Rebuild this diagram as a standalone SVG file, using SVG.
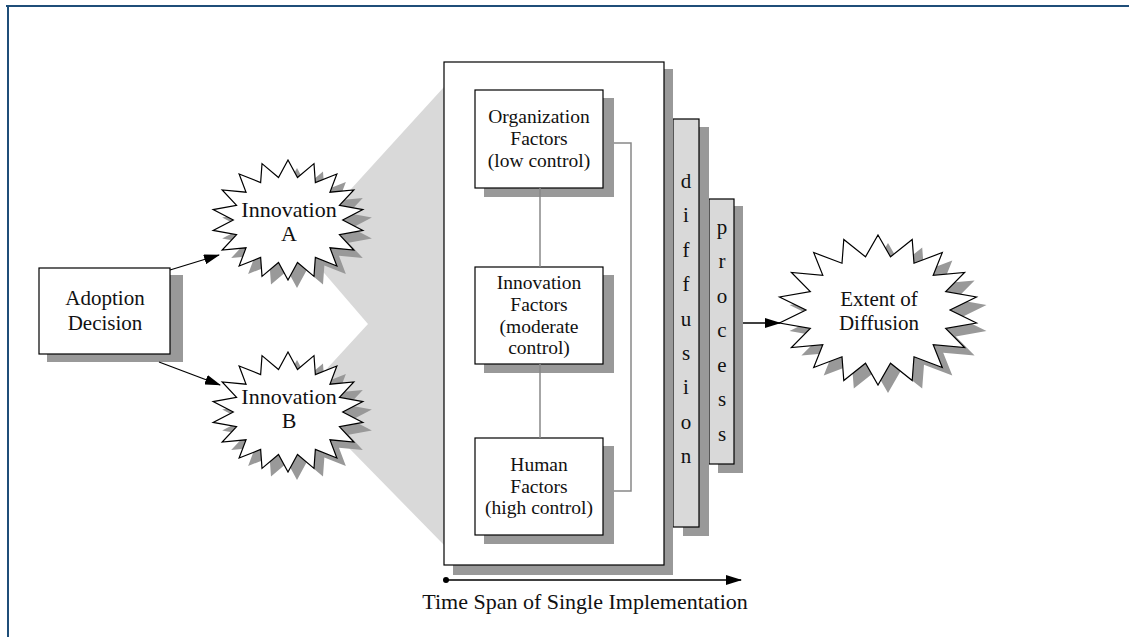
<svg xmlns="http://www.w3.org/2000/svg" xmlns:xlink="http://www.w3.org/1999/xlink" width="1129" height="637" viewBox="0 0 1129 637">
<style>
.t{font-family:"Liberation Serif","Times New Roman",serif;fill:#111;text-anchor:middle}
.s21{font-size:21px}
.s22{font-size:22px}
.s19{font-size:19.5px}
.box{fill:#fff;stroke:#000;stroke-width:1.2}
.sh{fill:#999}
.panel{fill:#d9d9d9;stroke:#000;stroke-width:1.2}
.gl{fill:none;stroke:#888;stroke-width:1.5}
.ar{fill:none;stroke:#000;stroke-width:1.3}
</style>
<defs>
<path id="star" vector-effect="non-scaling-stroke" d="M0,-100 L12.5,-70.9 L34.2,-94 L36,-62.4 L64.3,-76.6 L55.2,-46.3 L86.6,-50 L67.7,-24.6 L98.5,-17.4 L72,0 L98.5,17.4 L67.7,24.6 L86.6,50 L55.2,46.3 L64.3,76.6 L36,62.4 L34.2,94 L12.5,70.9 L0,100 L-12.5,70.9 L-34.2,94 L-36,62.4 L-64.3,76.6 L-55.2,46.3 L-86.6,50 L-67.7,24.6 L-98.5,17.4 L-72,0 L-98.5,-17.4 L-67.7,-24.6 L-86.6,-50 L-55.2,-46.3 L-64.3,-76.6 L-36,-62.4 L-34.2,-94 L-12.5,-70.9 Z"/>
<marker id="arr" markerWidth="16" markerHeight="10" refX="15" refY="5" orient="auto" markerUnits="userSpaceOnUse">
<path d="M0,0 L16,5 L0,10 Z" fill="#000"/>
</marker>
</defs>

<!-- frame -->
<line x1="6" y1="6" x2="1129" y2="6" stroke="#1f4e79" stroke-width="2"/>
<line x1="8" y1="5" x2="8" y2="637" stroke="#1f4e79" stroke-width="2"/>

<!-- funnel -->
<polygon id="funnel" points="444,87 300,245 368,324 300,398 444,545" fill="#d9d9d9"/>

<g id="adoption">
<rect class="sh" x="47" y="275" width="136" height="87"/>
<rect class="box" x="39" y="268" width="131" height="86"/>
<text class="t s21" x="105" y="305">Adoption</text>
<text class="t s21" x="105" y="330">Decision</text>
</g>

<g id="innovationA">
<use xlink:href="#star" class="sh" transform="translate(297,228) scale(0.76,0.6)"/>
<use xlink:href="#star" fill="#fff" stroke="#000" stroke-width="1.2" transform="translate(288,220) scale(0.76,0.6)"/>
<text class="t s22" x="289" y="217">Innovation</text>
<text class="t s22" x="289" y="241">A</text>
</g>

<g id="innovationB">
<use xlink:href="#star" class="sh" transform="translate(297,420) scale(0.76,0.6)"/>
<use xlink:href="#star" fill="#fff" stroke="#000" stroke-width="1.2" transform="translate(288,412) scale(0.76,0.6)"/>
<text class="t s22" x="289" y="404">Innovation</text>
<text class="t s22" x="289" y="428">B</text>
</g>

<g id="process">
<rect class="sh" x="718" y="206" width="25" height="267"/>
<rect class="panel" x="709" y="199" width="25" height="265"/>
<text class="t s21" x="722" y="234">p</text>
<text class="t s21" x="722" y="268">r</text>
<text class="t s21" x="722" y="303">o</text>
<text class="t s21" x="722" y="337">c</text>
<text class="t s21" x="722" y="372">e</text>
<text class="t s21" x="722" y="406">s</text>
<text class="t s21" x="722" y="441">s</text>
</g>

<g id="diffusion">
<rect class="sh" x="683" y="127" width="26" height="409"/>
<rect class="panel" x="673" y="119" width="26" height="408"/>
<text class="t s21" x="686" y="188">d</text>
<text class="t s21" x="686" y="222">i</text>
<text class="t s21" x="686" y="257">f</text>
<text class="t s21" x="686" y="291">f</text>
<text class="t s21" x="686" y="326">u</text>
<text class="t s21" x="686" y="360">s</text>
<text class="t s21" x="686" y="394">i</text>
<text class="t s21" x="686" y="429">o</text>
<text class="t s21" x="686" y="463">n</text>
</g>

<g id="implementation">
<rect class="sh" x="453" y="69" width="220" height="506"/>
<rect class="box" x="444" y="62" width="220" height="503"/>
</g>

<g id="organization">
<rect class="sh" x="484" y="98" width="130" height="99"/>
<rect class="box" x="475" y="90" width="128" height="98"/>
<text class="t s19" x="539" y="123">Organization</text>
<text class="t s19" x="539" y="145">Factors</text>
<text class="t s19" x="539" y="167">(low control)</text>
</g>

<g id="innovationFactors">
<rect class="sh" x="484" y="275" width="130" height="98"/>
<rect class="box" x="475" y="267" width="128" height="97"/>
<text class="t s19" x="539" y="289">Innovation</text>
<text class="t s19" x="539" y="311">Factors</text>
<text class="t s19" x="539" y="333">(moderate</text>
<text class="t s19" x="539" y="354">control)</text>
</g>

<g id="human">
<rect class="sh" x="484" y="446" width="130" height="98"/>
<rect class="box" x="475" y="438" width="128" height="97"/>
<text class="t s19" x="539" y="471">Human</text>
<text class="t s19" x="539" y="493">Factors</text>
<text class="t s19" x="539" y="514">(high control)</text>
</g>

<g id="extent">
<use xlink:href="#star" class="sh" transform="translate(888,318) scale(1.0,0.75)"/>
<use xlink:href="#star" fill="#fff" stroke="#000" stroke-width="1.2" transform="translate(878,310) scale(1.0,0.75)"/>
<text class="t s21" x="879" y="306">Extent of</text>
<text class="t s21" x="879" y="330">Diffusion</text>
</g>

<g id="connectors">
<line class="ar" x1="170" y1="270" x2="219" y2="255" marker-end="url(#arr)"/>
<line class="ar" x1="159" y1="362" x2="220" y2="385" marker-end="url(#arr)"/>
<line class="gl" x1="540" y1="188" x2="540" y2="267"/>
<line class="gl" x1="540" y1="364" x2="540" y2="438"/>
<polyline class="gl" points="614,143 631,143 631,491 614,491"/>
<line class="ar" x1="743" y1="323" x2="780" y2="323" marker-end="url(#arr)"/>
<circle cx="446" cy="580" r="3" fill="#000"/>
<line class="ar" x1="446" y1="580" x2="741" y2="580" marker-end="url(#arr)"/>
</g>

<text id="timespan" class="t s22" x="585" y="609">Time Span of Single Implementation</text>
</svg>
